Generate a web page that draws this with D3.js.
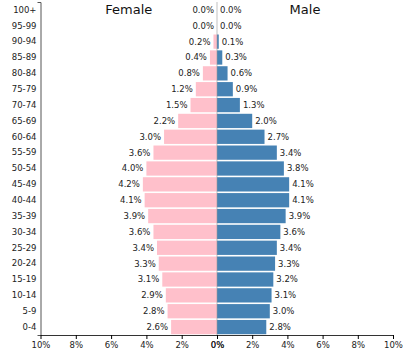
<!DOCTYPE html>
<html><head><meta charset="utf-8">
<script src="https://cdn.jsdelivr.net/npm/d3@7"></script>
<style>
body{margin:0;background:#fff;}
svg{display:block;font-family:"DejaVu Sans",sans-serif;}
</style></head>
<body>
<svg id="c" width="410" height="359"></svg>
<script>
const ages = ["100+","95-99","90-94","85-89","80-84","75-79","70-74","65-69","60-64","55-59","50-54","45-49","40-44","35-39","30-34","25-29","20-24","15-19","10-14","5-9","0-4"];
const female = [0.0,0.0,0.2,0.4,0.8,1.2,1.5,2.2,3.0,3.6,4.0,4.2,4.1,3.9,3.6,3.4,3.3,3.1,2.9,2.8,2.6];
const male = [0.0,0.0,0.1,0.3,0.6,0.9,1.3,2.0,2.7,3.4,3.8,4.1,4.1,3.9,3.6,3.4,3.3,3.2,3.1,3.0,2.8];
const xTicks = [0,2,4,6,8,10];

const svg = d3.select("#c");
const pL = 40.5, pMid = 217, pR = 393, pTop = 2, pBot = 335;
const xL = d3.scaleLinear().domain([0,10]).range([pMid,pL]);
const xR = d3.scaleLinear().domain([0,10]).range([pMid,pR]);
const y = d3.scaleBand().domain(ages).range([pTop,pBot]).paddingInner(0.1).paddingOuter(0.05);
const fmt = v => v.toFixed(1)+"%";

svg.append("g").selectAll("rect").data(ages).join("rect")
  .attr("x",(d,i)=>xL(female[i])).attr("y",d=>y(d))
  .attr("width",(d,i)=>pMid-xL(female[i])).attr("height",y.bandwidth())
  .attr("fill","#ffc0cb");
svg.append("g").selectAll("rect").data(ages).join("rect")
  .attr("x",pMid).attr("y",d=>y(d))
  .attr("width",(d,i)=>xR(male[i])-pMid).attr("height",y.bandwidth())
  .attr("fill","#4682b4");

svg.append("line").attr("x1",pMid).attr("x2",pMid).attr("y1",pTop).attr("y2",pBot)
  .attr("stroke","#999").attr("stroke-width",0.6);

svg.append("g").selectAll("text").data(ages).join("text")
  .attr("x",(d,i)=>xL(female[i])-3).attr("y",d=>y(d)+y.bandwidth()/2)
  .attr("dy","0.35em").attr("text-anchor","end").attr("font-size",8.5).attr("fill","#222")
  .text((d,i)=>fmt(female[i]));
svg.append("g").selectAll("text").data(ages).join("text")
  .attr("x",(d,i)=>xR(male[i])+3).attr("y",d=>y(d)+y.bandwidth()/2)
  .attr("dy","0.35em").attr("text-anchor","start").attr("font-size",8.5).attr("fill","#222")
  .text((d,i)=>fmt(male[i]));

const ya = svg.append("g").attr("transform",`translate(${pL},0)`)
  .call(d3.axisLeft(y).tickSizeInner(0).tickSizeOuter(3).tickPadding(4));
ya.selectAll("text").attr("font-size",8.5).attr("font-family","DejaVu Sans").attr("fill","#222");
ya.select(".domain").attr("stroke","#555");

const xa1 = svg.append("g").attr("transform",`translate(0,${pBot})`)
  .call(d3.axisBottom(xL).tickValues(xTicks).tickFormat(d=>d+"%").tickSizeInner(4).tickSizeOuter(0).tickPadding(3));
const xa2 = svg.append("g").attr("transform",`translate(0,${pBot})`)
  .call(d3.axisBottom(xR).tickValues(xTicks).tickFormat(d=>d+"%").tickSizeInner(4).tickSizeOuter(0).tickPadding(3));
[xa1,xa2].forEach(a=>{
  a.selectAll("text").attr("font-size",8.5).attr("font-family","DejaVu Sans").attr("fill","#222");
  a.select(".domain").attr("stroke","#333");
});

svg.append("text").attr("x",(pL+pMid)/2).attr("y",14).attr("text-anchor","middle")
  .attr("font-size",13).attr("fill","#111").text("Female");
svg.append("text").attr("x",(pMid+pR)/2).attr("y",14).attr("text-anchor","middle")
  .attr("font-size",13).attr("fill","#111").text("Male");
</script>
</body></html>
